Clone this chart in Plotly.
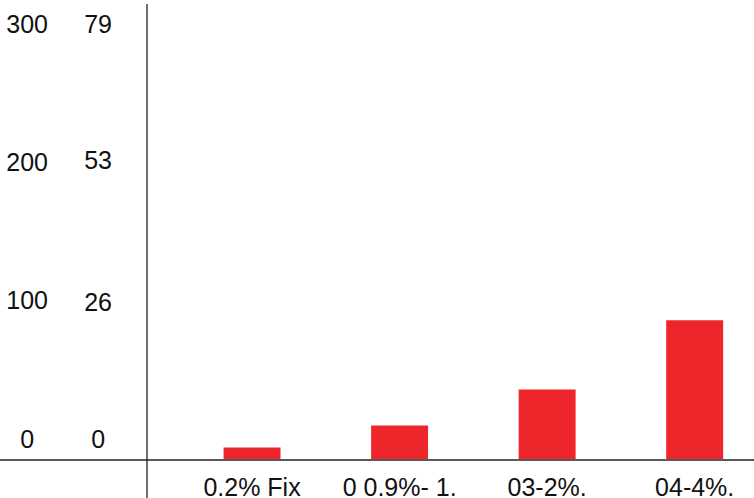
import plotly.graph_objects as go

categories = ["0.2% Fix", "0 0.9%- 1.", "03-2%.", "04-4%."]
values = [9, 25, 51, 101]
left_ticks = [0, 100, 200, 300]
right_ticks = [0, 26, 53, 79]

FONT = "Liberation Sans, Arial, sans-serif"
RED = "#EE252B"

fig = go.Figure()
fig.add_trace(go.Bar(x=categories, y=values, marker=dict(color=RED, line=dict(width=0)),
                     yaxis="y", showlegend=False))
# invisible trace to activate second axis
fig.add_trace(go.Scatter(x=[categories[0]], y=[0], yaxis="y2", mode="markers",
                         marker=dict(opacity=0), showlegend=False, hoverinfo="skip"))

left_text = [str(v) + ("\u2007" if len(str(v)) == 1 else "") for v in left_ticks]
right_text = [str(v) + ("\u2008" if len(str(v)) == 1 else "") for v in right_ticks]

fig.update_layout(
    width=754, height=498,
    margin=dict(l=147, r=0, t=45, b=38),
    paper_bgcolor="white", plot_bgcolor="white",
    font=dict(family=FONT, size=25, color="#111111"),
    bargap=0.614,
    xaxis=dict(type="category", range=[-0.712, 3.402], showgrid=False, zeroline=False,
               showline=False, ticks="", tickfont=dict(size=25), ticklabelstandoff=10,
               automargin=False),
    yaxis=dict(range=[0, 300], tickvals=left_ticks, ticktext=left_text, showgrid=False,
               zeroline=False, showline=False, ticks="", ticklabelshift=-21,
               ticklabelstandoff=98, tickfont=dict(size=25), automargin=False),
    yaxis2=dict(range=[0, 79], tickvals=right_ticks, ticktext=right_text, overlaying="y",
                anchor="free", position=0, side="left", showgrid=False, zeroline=False,
                showline=False, ticks="", ticklabelshift=-21, ticklabelstandoff=35,
                tickfont=dict(size=25), automargin=False),
    shapes=[
        dict(type="line", xref="paper", yref="paper", x0=-147/607, x1=1, y0=0, y1=0,
             line=dict(color="#5a5a5a", width=2)),
        dict(type="line", xref="paper", yref="paper", x0=0, x1=0, y0=-38/415, y1=(415+41)/415,
             line=dict(color="#222222", width=1.3)),
    ],
)

fig.write_html("out.html", config={"displayModeBar": False},
               post_script="document.body.style.margin='0';")
